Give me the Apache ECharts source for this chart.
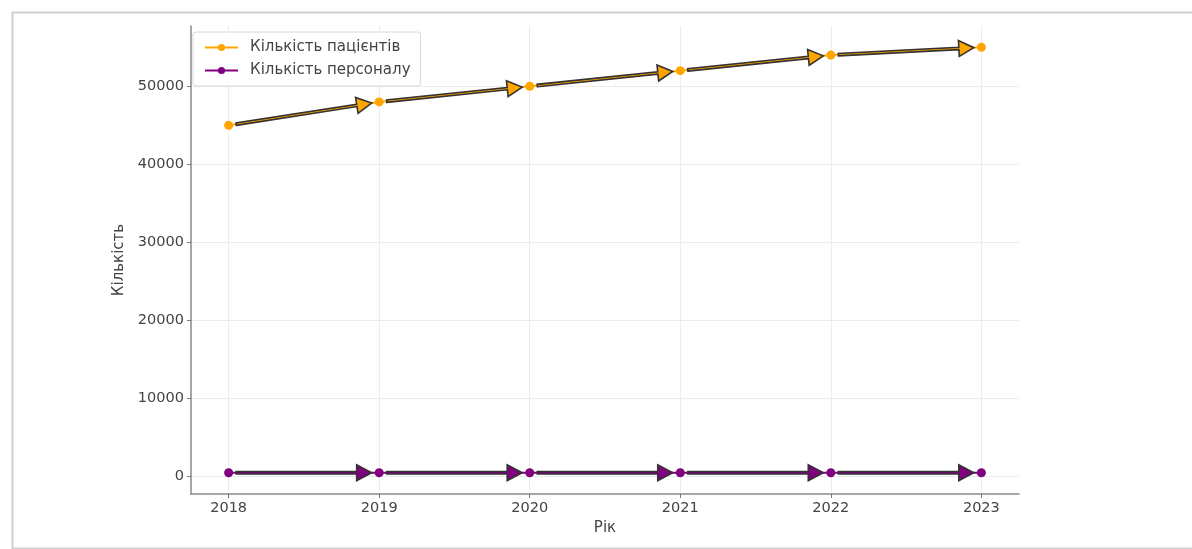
<!DOCTYPE html>
<html>
<head>
<meta charset="utf-8">
<script src="https://cdn.jsdelivr.net/npm/echarts@6/dist/echarts.min.js"></script>
<style>html,body{margin:0;padding:0;background:#fff;}#c{width:1192px;height:549px;}</style>
</head>
<body>
<div id="c"></div>
<script>
const years = [2018, 2019, 2020, 2021, 2022, 2023];
const patients = [45000, 48000, 50000, 52000, 54000, 55000];
const staff = [500, 500, 500, 500, 500, 500];
const xTicks = [2018, 2019, 2020, 2021, 2022, 2023];
const yTicks = [0, 10000, 20000, 30000, 40000, 50000];
const seriesNames = ['Кількість пацієнтів', 'Кількість персоналу'];
const xAxisName = 'Рік';
const yAxisName = 'Кількість';

const FONT = 'DejaVu Sans';
const ORANGE = '#FFA500';
const PURPLE = '#800080';

function pairs(vals) {
  const out = [];
  for (let i = 0; i < years.length - 1; i++) out.push([years[i], vals[i], years[i + 1], vals[i + 1]]);
  return out;
}

function arrowRenderer(fillColor) {
  return function (params, api) {
    const a = api.coord([api.value(0), api.value(1)]);
    const b = api.coord([api.value(2), api.value(3)]);
    const dx = b[0] - a[0], dy = b[1] - a[1];
    const L = Math.hypot(dx, dy);
    const ux = dx / L, uy = dy / L;
    const s = 0.05 * L;
    const sx = a[0] + ux * s, sy = a[1] + uy * s;
    const ex = b[0] - ux * s, ey = b[1] - uy * s;
    const hl = 15, hw = 8, sw = 1.2;
    const nx = -uy, ny = ux;
    const bx = ex - ux * hl, by = ey - uy * hl;
    const pts = [
      [sx + nx * sw, sy + ny * sw],
      [bx + nx * sw, by + ny * sw],
      [bx + nx * hw, by + ny * hw],
      [ex, ey],
      [bx - nx * hw, by - ny * hw],
      [bx - nx * sw, by - ny * sw],
      [sx - nx * sw, sy - ny * sw]
    ];
    return { type: 'polygon', shape: { points: pts }, style: { fill: fillColor, stroke: '#333', lineWidth: 1.6, lineJoin: 'miter' } };
  };
}

const chart = echarts.init(document.getElementById('c'), null, { renderer: 'canvas' });
chart.setOption({
  animation: false,
  backgroundColor: '#fff',
  textStyle: { fontFamily: FONT },
  graphic: [{
    type: 'rect', left: 10, top: 10, shape: { width: 1190, height: 536 },
    style: { fill: 'none', stroke: '#cfcfcf', lineWidth: 2 }, z: -10
  }],
  grid: { left: 191, right: 173, top: 26, bottom: 55, containLabel: false },
  legend: {
    data: seriesNames,
    orient: 'vertical',
    left: 193, top: 32,
    itemWidth: 33, itemHeight: 9, itemGap: 8,
    padding: [8, 10, 8, 11],
    backgroundColor: 'rgba(255,255,255,0.85)',
    borderColor: '#d8d8d8', borderWidth: 1, borderRadius: 3,
    textStyle: { fontFamily: FONT, fontSize: 15, color: '#444', padding: [0, 0, 0, 7] }
  },
  xAxis: {
    type: 'value', min: 2017.75, max: 2023.25,
    name: xAxisName, nameLocation: 'middle', nameGap: 24,
    nameTextStyle: { fontFamily: FONT, fontSize: 15, color: '#444' },
    axisLine: { show: true, onZero: false, lineStyle: { color: '#8a8a8a', width: 1.5 } },
    axisTick: { show: true, customValues: xTicks, length: 4, lineStyle: { color: '#777' } },
    axisLabel: { customValues: xTicks, margin: 7, fontFamily: FONT, fontSize: 14.5, color: '#444', formatter: v => String(v) },
    splitLine: { show: true, lineStyle: { color: '#ececec', width: 1 } }
  },
  yAxis: {
    type: 'value', min: -2225, max: 57725,
    name: yAxisName, nameLocation: 'middle', nameGap: 64, nameRotate: 90,
    nameTextStyle: { fontFamily: FONT, fontSize: 15, color: '#444' },
    axisLine: { show: true, onZero: false, lineStyle: { color: '#8a8a8a', width: 1.5 } },
    axisTick: { show: true, customValues: yTicks, length: 4, lineStyle: { color: '#777' } },
    axisLabel: { customValues: yTicks, margin: 7, fontFamily: FONT, fontSize: 14.5, color: '#444', formatter: v => String(v) },
    splitLine: { show: true, lineStyle: { color: '#ececec', width: 1 } }
  },
  series: [
    {
      name: seriesNames[0], type: 'line',
      data: years.map((y, i) => [y, patients[i]]),
      symbol: 'circle', symbolSize: 9,
      itemStyle: { color: ORANGE },
      lineStyle: { color: ORANGE, width: 2 },
      z: 2
    },
    {
      name: seriesNames[1], type: 'line',
      data: years.map((y, i) => [y, staff[i]]),
      symbol: 'circle', symbolSize: 9,
      itemStyle: { color: PURPLE },
      lineStyle: { color: PURPLE, width: 2 },
      z: 2
    },
    {
      type: 'custom', coordinateSystem: 'cartesian2d',
      data: pairs(patients), encode: { x: [0, 2], y: [1, 3] },
      renderItem: arrowRenderer(ORANGE), clip: false, z: 3, silent: true
    },
    {
      type: 'custom', coordinateSystem: 'cartesian2d',
      data: pairs(staff), encode: { x: [0, 2], y: [1, 3] },
      renderItem: arrowRenderer(PURPLE), clip: false, z: 3, silent: true
    }
  ]
});
</script>
</body>
</html>
